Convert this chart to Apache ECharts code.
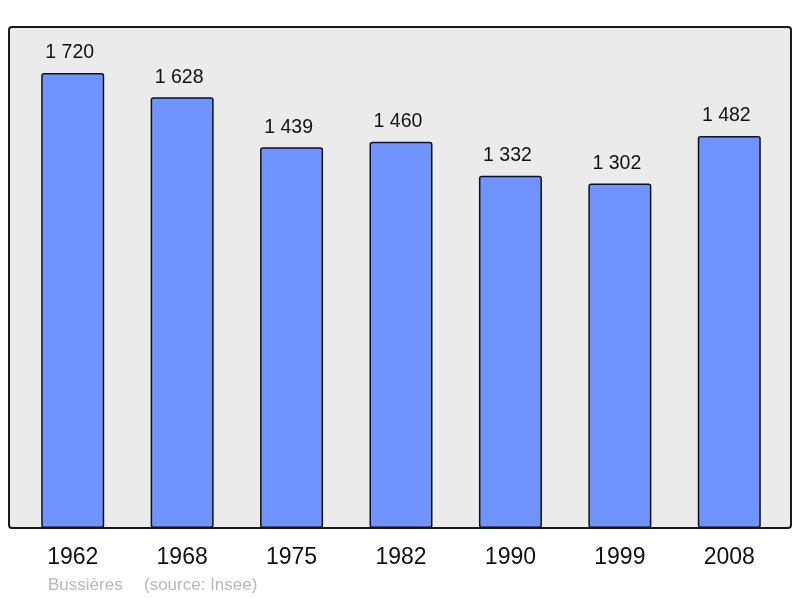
<!DOCTYPE html>
<html>
<head>
<meta charset="utf-8">
<script src="https://cdn.jsdelivr.net/npm/echarts@6/dist/echarts.min.js"></script>
<style>html,body{margin:0;padding:0;background:#fff;}#c{width:800px;height:598px;}</style>
</head>
<body>
<div id="c"></div>
<script>
var categories = ['1962', '1968', '1975', '1982', '1990', '1999', '2008'];
var population = [1720, 1628, 1439, 1460, 1332, 1302, 1482];
var footerName = 'Bussières';
var footerSource = '(source: Insee)';

function fmt(v) {
  return String(v).replace(/\B(?=(\d{3})+(?!\d))/g, ' ');
}

var chart = echarts.init(document.getElementById('c'), null, {renderer: 'canvas'});
chart.setOption({
  animation: false,
  backgroundColor: '#ffffff',
  graphic: [
    {type: 'rect', z: -10, shape: {x: 9, y: 27, width: 782, height: 501, r: 3},
     style: {fill: '#ebebeb', stroke: '#1a1a1a', lineWidth: 2}},
    {type: 'text', left: 48, top: 577, style: {text: footerName, fill: '#b8b8b8', font: '17px "Liberation Sans", Arial, sans-serif'}},
    {type: 'text', left: 144, top: 577, style: {text: footerSource, fill: '#b8b8b8', font: '17px "Liberation Sans", Arial, sans-serif'}}
  ],
  grid: {left: 18, right: 16, top: 27, bottom: 70, containLabel: false},
  xAxis: {
    type: 'category',
    data: categories,
    axisLine: {show: false},
    axisTick: {show: false},
    axisLabel: {color: '#111', fontSize: 23, margin: 18, fontFamily: '"Liberation Sans", Arial, sans-serif'}
  },
  yAxis: {
    type: 'value', min: 0, max: 1894,
    show: false, splitLine: {show: false}
  },
  series: [{
    type: 'bar',
    data: population,
    barWidth: 63,
    itemStyle: {color: '#7094ff', borderColor: '#111', borderWidth: 1.5, borderRadius: 2},
    label: {
      show: true, position: 'top', distance: 10, offset: [-3, 0],
      color: '#111', fontSize: 19.5, fontFamily: '"Liberation Sans", Arial, sans-serif',
      formatter: function (p) { return fmt(p.value); }
    }
  }]
});
</script>
</body>
</html>
